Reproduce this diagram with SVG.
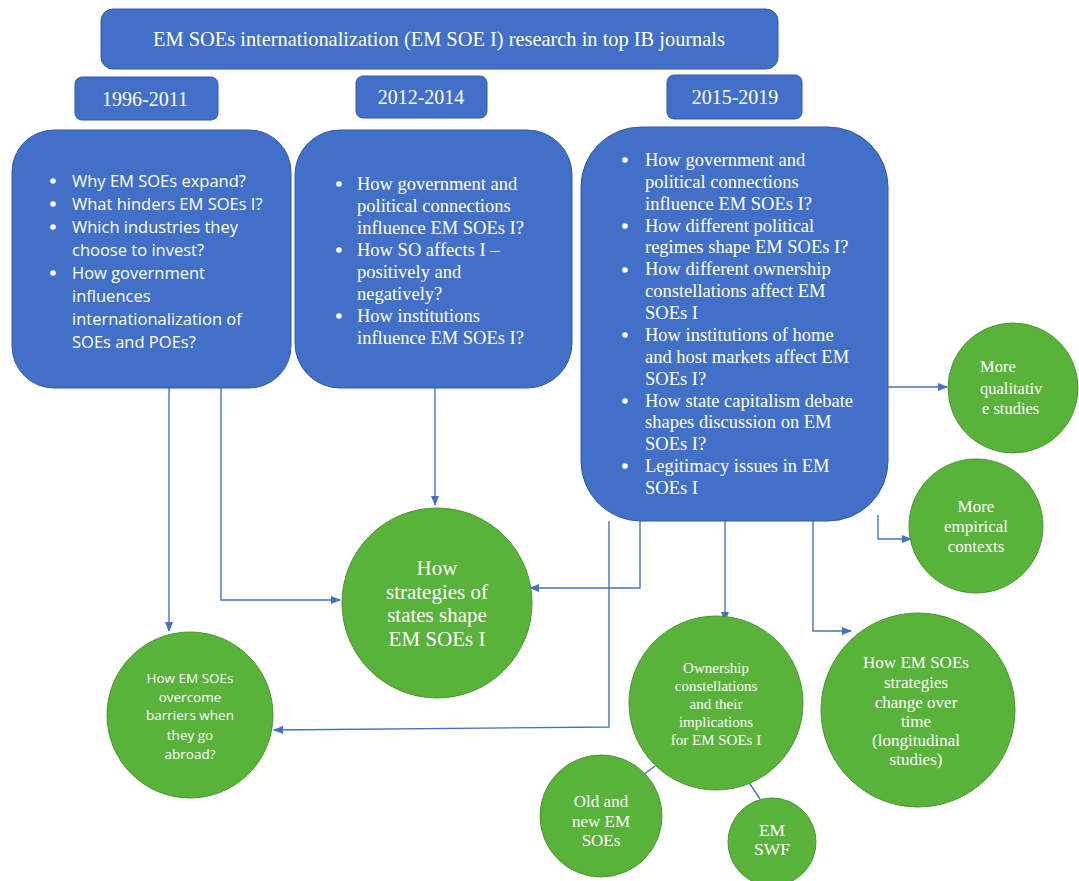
<svg xmlns="http://www.w3.org/2000/svg" width="1079" height="881" viewBox="0 0 1079 881">
<defs>
<marker id="arr" markerWidth="10" markerHeight="8" refX="9" refY="4" orient="auto" markerUnits="userSpaceOnUse">
<path d="M0,0 L10,4 L0,8 Z" fill="#4472C4"/>
</marker>
<style>
.box{fill:#4270C8;stroke:#3259A6;stroke-width:1}
.circ{fill:#59B23A;stroke:#4A9630;stroke-width:1}
.serif{font-family:"Liberation Serif","Times New Roman",serif;fill:#fff}
.sans{font-family:"Open Sans","Liberation Sans",sans-serif;fill:#fff}
.c{text-anchor:middle}
.con{fill:none;stroke:#4472C4;stroke-width:1.4}
.dot{fill:#fff}
</style>
</defs>
<rect width="1079" height="881" fill="#fff"/>

<g id="title">
<rect class="box" x="101" y="9" width="677" height="60" rx="12"/>
<text class="serif c" x="439" y="46" font-size="20.4">EM SOEs internationalization (EM SOE I) research in top IB journals</text>
</g>
<g id="y1">
<rect class="box" x="75" y="77" width="143" height="43" rx="7"/>
<text class="serif c" x="145" y="106" font-size="20">1996-2011</text>
</g>
<g id="y2">
<rect class="box" x="356" y="76" width="131" height="42" rx="7"/>
<text class="serif c" x="421" y="104" font-size="20">2012-2014</text>
</g>
<g id="y3">
<rect class="box" x="667" y="75" width="135" height="44" rx="7"/>
<text class="serif c" x="735" y="104" font-size="20">2015-2019</text>
</g>

<g id="connectors">
<polyline class="con" points="169,388 169,631" marker-end="url(#arr)"/>
<polyline class="con" points="221,388 221,600 340,600" marker-end="url(#arr)"/>
<polyline class="con" points="435,388 435,505" marker-end="url(#arr)"/>
<polyline class="con" points="640,521 640,588 530,588" marker-end="url(#arr)"/>
<polyline class="con" points="609,521 609,727 274,730" marker-end="url(#arr)"/>
<polyline class="con" points="725,521 725,621" marker-end="url(#arr)"/>
<polyline class="con" points="813,521 813,631 851,631" marker-end="url(#arr)"/>
<polyline class="con" points="878,515 878,539 911,539" marker-end="url(#arr)"/>
<polyline class="con" points="888,387 947,387" marker-end="url(#arr)"/>
<line class="con" x1="655" y1="766" x2="643" y2="775"/>
<line class="con" x1="748" y1="781" x2="760" y2="799"/>
</g>

<g id="box1">
<rect class="box" x="12" y="130" width="279" height="258" rx="42"/>
<circle class="dot" cx="53" cy="181" r="2.8"/>
<circle class="dot" cx="53" cy="204" r="2.8"/>
<circle class="dot" cx="53" cy="227" r="2.8"/>
<circle class="dot" cx="53" cy="273" r="2.8"/>
<g class="sans" font-size="16.5">
<text x="72" y="187">Why EM SOEs expand?</text>
<text x="72" y="210">What hinders EM SOEs I?</text>
<text x="72" y="233">Which industries they</text>
<text x="72" y="256">choose to invest?</text>
<text x="72" y="279">How government</text>
<text x="72" y="302">influences</text>
<text x="72" y="325">internationalization of</text>
<text x="72" y="348">SOEs and POEs?</text>
</g>
</g>

<g id="box2">
<rect class="box" x="295" y="130" width="277" height="258" rx="45"/>
<circle class="dot" cx="339" cy="184" r="2.8"/>
<circle class="dot" cx="339" cy="250" r="2.8"/>
<circle class="dot" cx="339" cy="316" r="2.8"/>
<g class="serif" font-size="18.5">
<text x="357" y="190">How government and</text>
<text x="357" y="212">political connections</text>
<text x="357" y="234">influence EM SOEs I?</text>
<text x="357" y="256">How SO affects I –</text>
<text x="357" y="278">positively and</text>
<text x="357" y="300">negatively?</text>
<text x="357" y="322">How institutions</text>
<text x="357" y="344">influence EM SOEs I?</text>
</g>
</g>

<g id="box3">
<rect class="box" x="581" y="127" width="307" height="394" rx="60"/>
<circle class="dot" cx="625" cy="160" r="2.8"/>
<circle class="dot" cx="625" cy="226" r="2.8"/>
<circle class="dot" cx="625" cy="270" r="2.8"/>
<circle class="dot" cx="625" cy="335" r="2.8"/>
<circle class="dot" cx="625" cy="401" r="2.8"/>
<circle class="dot" cx="625" cy="466" r="2.8"/>
<g class="serif" font-size="18.5">
<text x="645" y="166">How government and</text>
<text x="645" y="188">political connections</text>
<text x="645" y="210">influence EM SOEs I?</text>
<text x="645" y="232">How different political</text>
<text x="645" y="253">regimes shape EM SOEs I?</text>
<text x="645" y="275">How different ownership</text>
<text x="645" y="297">constellations affect EM</text>
<text x="645" y="319">SOEs I</text>
<text x="645" y="341">How institutions of home</text>
<text x="645" y="363">and host markets affect EM</text>
<text x="645" y="385">SOEs I?</text>
<text x="645" y="407">How state capitalism debate</text>
<text x="645" y="428">shapes discussion on EM</text>
<text x="645" y="450">SOEs I?</text>
<text x="645" y="472">Legitimacy issues in EM</text>
<text x="645" y="494">SOEs I</text>
</g>
</g>

<g id="strategies">
<circle class="circ" cx="437" cy="603" r="95"/>
<g class="serif c" font-size="21">
<text x="437" y="575">How</text>
<text x="437" y="599">strategies of</text>
<text x="437" y="622">states shape</text>
<text x="437" y="646">EM SOEs I</text>
</g>
</g>

<g id="overcome">
<circle class="circ" cx="190" cy="715" r="83"/>
<g class="sans c" font-size="13.5">
<text x="190" y="683">How EM SOEs</text>
<text x="190" y="702">overcome</text>
<text x="190" y="720">barriers when</text>
<text x="190" y="740">they go</text>
<text x="190" y="759">abroad?</text>
</g>
</g>

<g id="ownership">
<circle class="circ" cx="716" cy="703" r="87"/>
<g class="serif c" font-size="15">
<text x="716" y="673">Ownership</text>
<text x="716" y="691">constellations</text>
<text x="716" y="709">and their</text>
<text x="716" y="727">implications</text>
<text x="716" y="745">for EM SOEs I</text>
</g>
</g>

<g id="oldnew">
<circle class="circ" cx="601" cy="816" r="61"/>
<g class="serif c" font-size="17">
<text x="601" y="807">Old and</text>
<text x="601" y="827">new EM</text>
<text x="601" y="846">SOEs</text>
</g>
</g>

<g id="swf">
<circle class="circ" cx="772" cy="842" r="44"/>
<g class="serif c" font-size="17.5">
<text x="772" y="836">EM</text>
<text x="772" y="855">SWF</text>
</g>
</g>

<g id="qualitative">
<circle class="circ" cx="1013" cy="388" r="65"/>
<g class="serif" font-size="16.5">
<text x="980" y="372">More</text>
<text x="980" y="394">qualitativ</text>
<text x="982" y="414">e studies</text>
</g>
</g>

<g id="empirical">
<circle class="circ" cx="976" cy="526" r="67"/>
<g class="serif c" font-size="17">
<text x="976" y="512">More</text>
<text x="976" y="532">empirical</text>
<text x="976" y="552">contexts</text>
</g>
</g>

<g id="longitudinal">
<circle class="circ" cx="918" cy="710" r="97"/>
<g class="serif c" font-size="17">
<text x="916" y="668">How EM SOEs</text>
<text x="916" y="688">strategies</text>
<text x="916" y="708">change over</text>
<text x="916" y="727">time</text>
<text x="916" y="746">(longitudinal</text>
<text x="916" y="765">studies)</text>
</g>
</g>
</svg>
